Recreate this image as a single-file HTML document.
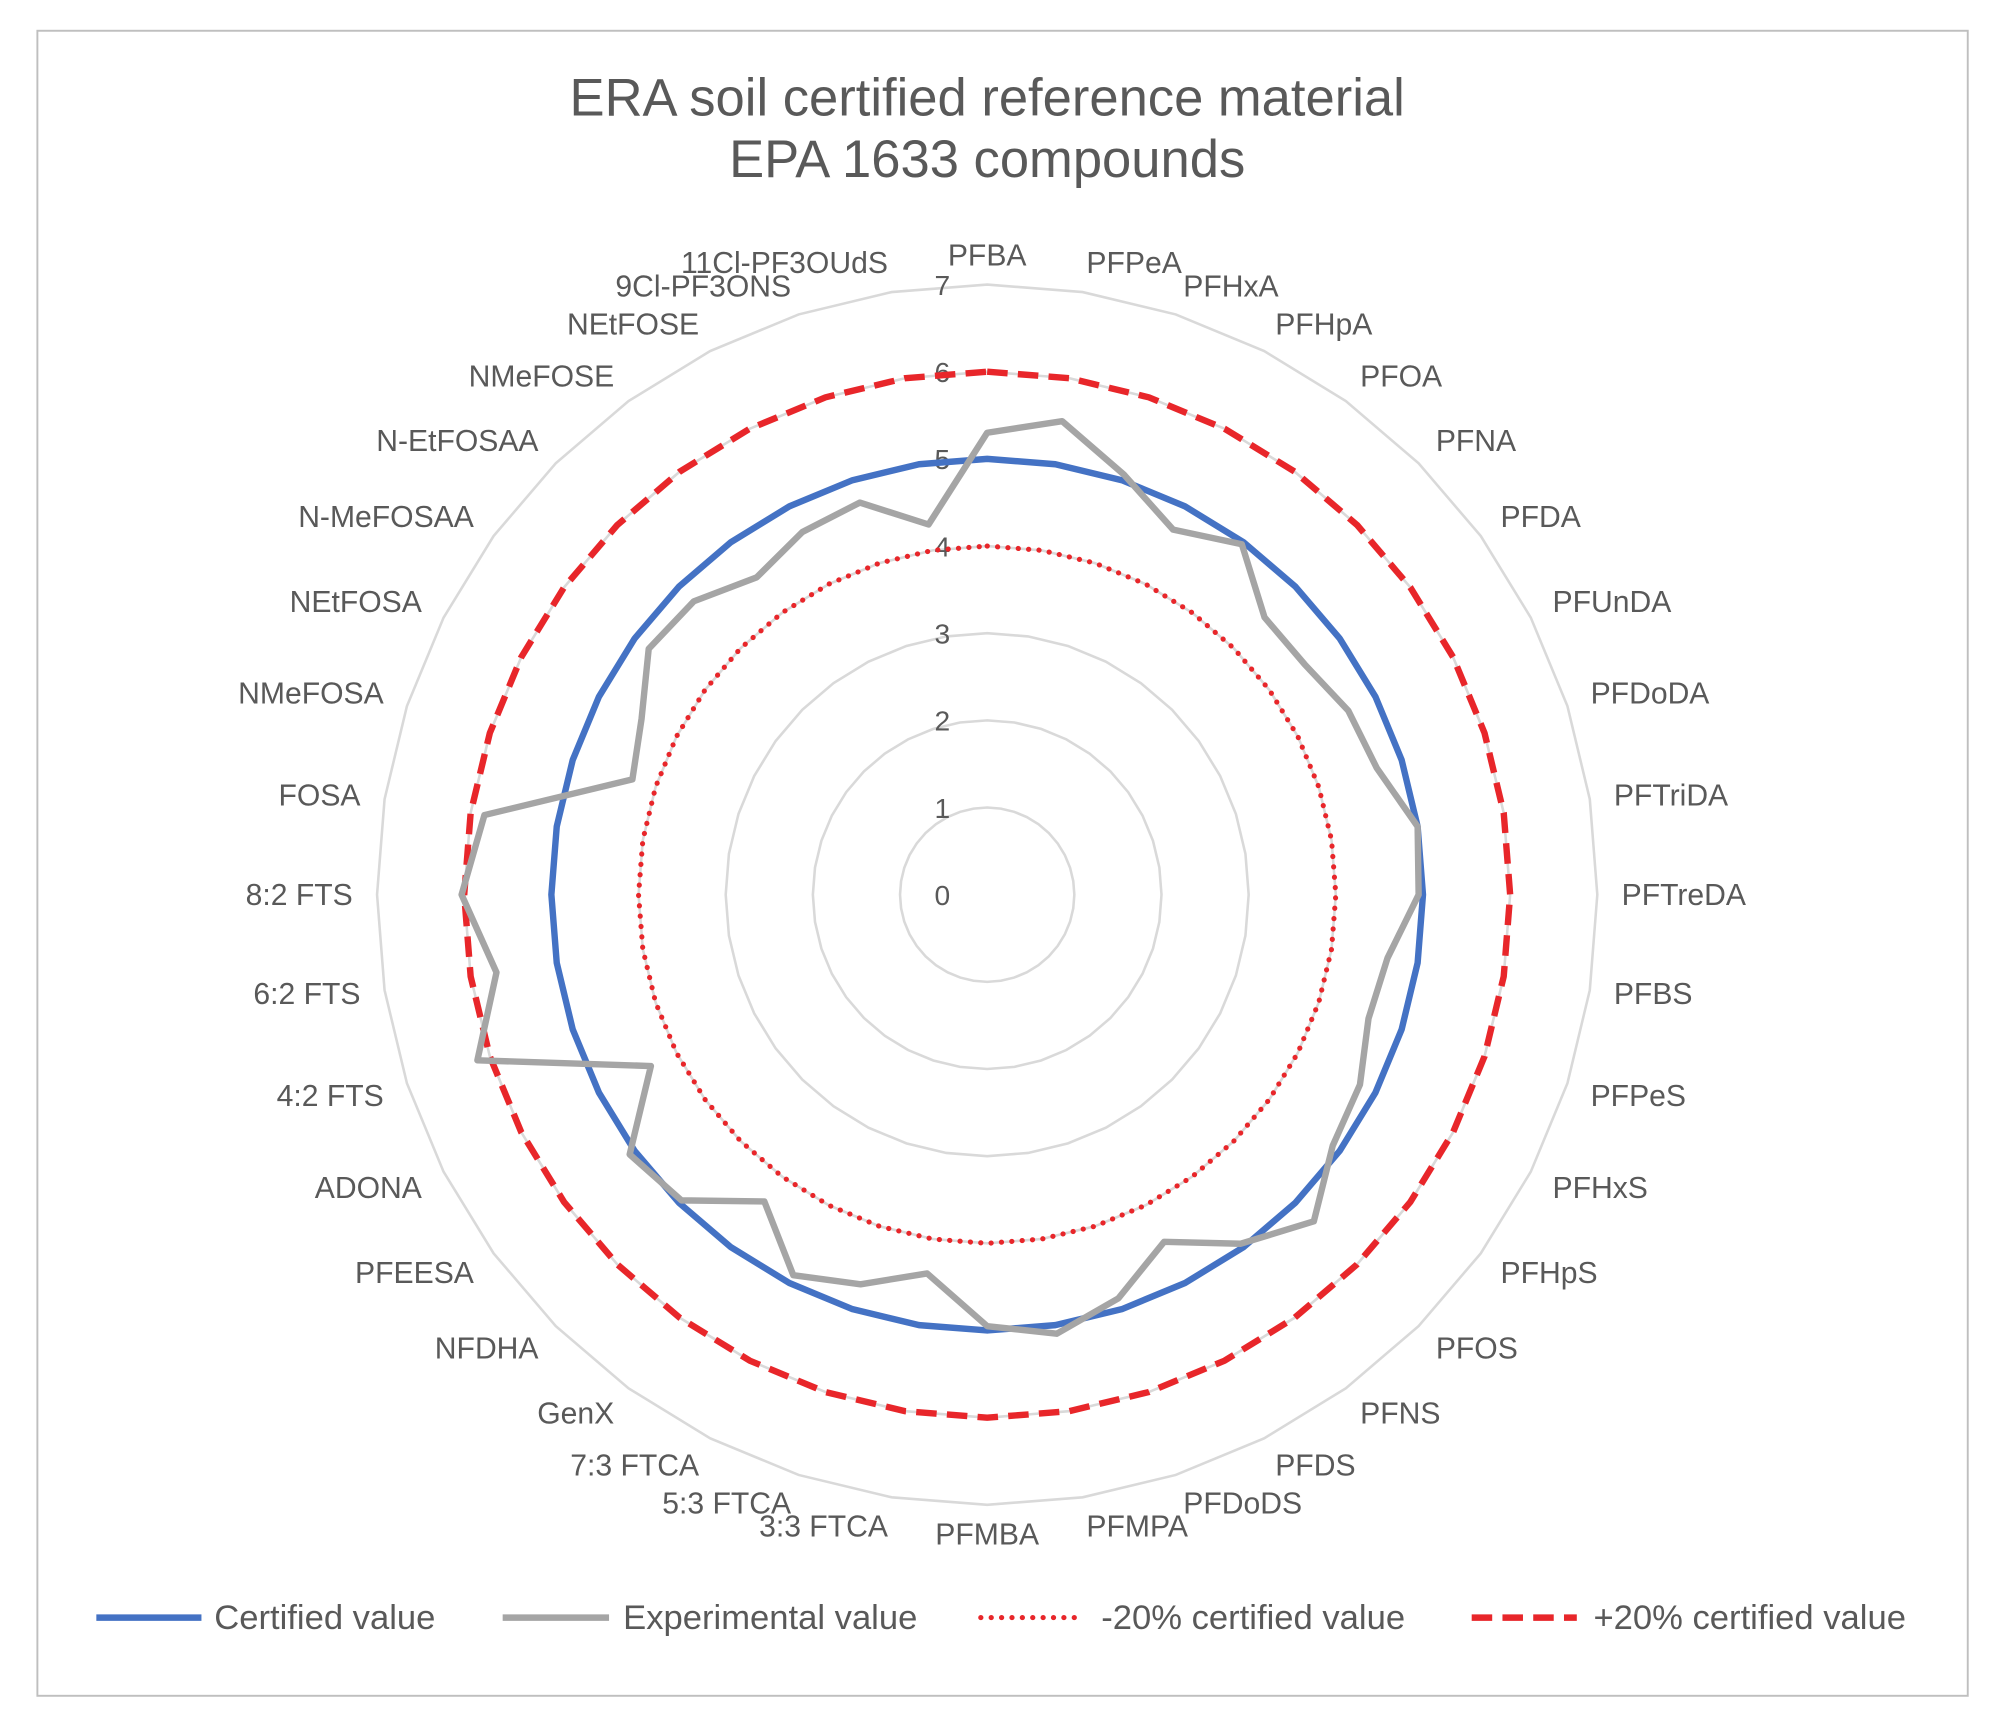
<!DOCTYPE html>
<html><head><meta charset="utf-8"><style>
html,body{margin:0;padding:0;background:#fff;}
svg{display:block;font-family:"Liberation Sans",sans-serif;}
</style></head><body>
<svg id="chart" width="2000" height="1724" viewBox="0 0 1560 1345" xmlns="http://www.w3.org/2000/svg">
<rect x="29" y="24" width="1506" height="1299" fill="#fff" stroke="#bfbfbf" stroke-width="1.5"/>
<text x="770" y="90" text-anchor="middle" font-size="41" fill="#595959">ERA soil certified reference material</text>
<text x="770" y="138" text-anchor="middle" font-size="41" fill="#595959">EPA 1633 compounds</text>
<g id="grid"></g>
<g id="series"></g>
<g id="labels"></g>
<g id="legend" font-size="27" fill="#595959">
<line x1="75" y1="1262" x2="157" y2="1262" stroke="#4472C4" stroke-width="5"/>
<text x="167" y="1271">Certified value</text>
<line x1="392" y1="1262" x2="475" y2="1262" stroke="#A5A5A5" stroke-width="5"/>
<text x="486" y="1271">Experimental value</text>
<line x1="765" y1="1262" x2="845" y2="1262" stroke="#E8262A" stroke-width="4" stroke-dasharray="0.1 8" stroke-linecap="round"/>
<text x="859" y="1271">-20% certified value</text>
<line x1="1148" y1="1262" x2="1230" y2="1262" stroke="#E8262A" stroke-width="5" stroke-dasharray="16 8"/>
<text x="1243" y="1271">+20% certified value</text>
</g>
</svg>
<script>
const categories = ["PFBA","PFPeA","PFHxA","PFHpA","PFOA","PFNA","PFDA","PFUnDA","PFDoDA","PFTriDA","PFTreDA","PFBS","PFPeS","PFHxS","PFHpS","PFOS","PFNS","PFDS","PFDoDS","PFMPA","PFMBA","3:3 FTCA","5:3 FTCA","7:3 FTCA","GenX","NFDHA","PFEESA","ADONA","4:2 FTS","6:2 FTS","8:2 FTS","FOSA","NMeFOSA","NEtFOSA","N-MeFOSAA","N-EtFOSAA","NMeFOSE","NEtFOSE","9Cl-PF3ONS","11Cl-PF3OUdS"];
const certified = [5,5,5,5,5,5,5,5,5,5,5,5,5,5,5,5,5,5,5,5,5,5,5,5,5,5,5,5,5,5,5,5,5,5,5,5,5,5,5,5];
const experimental = [5.3,5.5,5.07,4.7,4.97,4.5,4.5,4.65,4.7,5.0,4.95,4.65,4.6,4.8,4.9,5.3,4.95,4.47,4.87,5.1,4.95,4.4,4.7,4.9,4.35,4.96,5.07,4.33,6.15,5.7,6.03,5.84,4.28,4.45,4.8,4.76,4.5,4.67,4.73,4.3];
const minus20 = certified.map(v => v * 0.8);
const plus20 = certified.map(v => v * 1.2);
const ticks = [0,1,2,3,4,5,6,7];

const NS = "http://www.w3.org/2000/svg";
const CX = 770, CY = 698, STEP = 68;
const N = categories.length;
function ang(i){ return i * 2 * Math.PI / N; }
function pt(i, v){ const a = ang(i); return [CX + Math.sin(a) * v * STEP, CY - Math.cos(a) * v * STEP]; }
function mk(tag, attrs, parent){ const e = document.createElementNS(NS, tag); for (const k in attrs) e.setAttribute(k, attrs[k]); parent.appendChild(e); return e; }

const grid = document.getElementById('grid');
ticks.forEach(t => {
  if (t > 0) {
    const pts = categories.map((c, i) => pt(i, t).join(',')).join(' ');
    const p = mk('polygon', {points: pts, fill: 'none', stroke: '#d9d9d9', 'stroke-width': 2}, grid);
    
    
  }
  const tx = mk('text', {x: 735, y: CY - t * STEP + 8, 'text-anchor': 'middle', 'font-size': 22, fill: '#595959'}, grid);
  tx.textContent = t;
  
  
});

const series = document.getElementById('series');
function drawSeries(vals, style, name){
  const pts = vals.map((v, i) => pt(i, v).join(',')).join(' ');
  const p = mk('polygon', Object.assign({points: pts, fill: 'none', 'stroke-linejoin': 'round'}, style), series);
  
  
}
drawSeries(minus20, {stroke: '#E8262A', 'stroke-width': 4, 'stroke-dasharray': '0.1 8', 'stroke-linecap': 'round'}, 'series-minus20');
drawSeries(plus20, {stroke: '#E8262A', 'stroke-width': 5, 'stroke-dasharray': '16 8'}, 'series-plus20');
drawSeries(certified, {stroke: '#4472C4', 'stroke-width': 5}, 'series-certified');
drawSeries(experimental, {stroke: '#A5A5A5', 'stroke-width': 5}, 'series-experimental');

const labels = document.getElementById('labels');
categories.forEach((c, i) => {
  const a = ang(i);
  const s = Math.sin(a), co = Math.cos(a);
  const R = 495;
  const x = CX + s * R, y = CY - co * R + 8 + (co < -0.3 ? 4 : 0) - (co > 0.3 ? 4 : 0);
  let anchor = 'middle';
  if (s > 0.15) anchor = 'start'; else if (s < -0.15) anchor = 'end';
  const t = mk('text', {x: x, y: y, 'text-anchor': anchor, 'font-size': 23.5, fill: '#595959'}, labels);
  t.textContent = c;
  
  
});
</script>
</body></html>
